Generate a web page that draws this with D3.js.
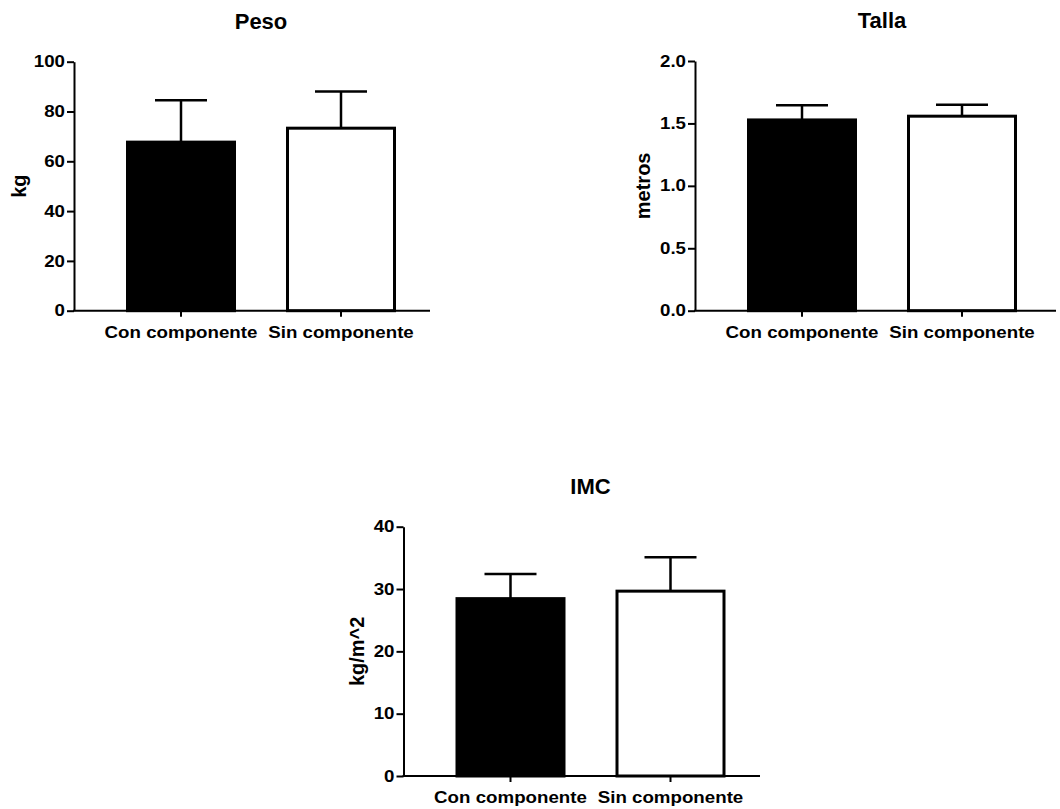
<!DOCTYPE html>
<html>
<head>
<meta charset="utf-8">
<script src="https://cdn.jsdelivr.net/npm/d3@7"></script>
<style>
  html, body { margin: 0; padding: 0; background: #fff; }
  svg { display: block; font-family: Arial, "Liberation Sans", sans-serif; font-weight: bold; }
</style>
</head>
<body>
<svg id="chart" width="1060" height="809"></svg>
<script>
// Groups compared in every panel
const categories = ["Con componente", "Sin componente"];

// Peso (kg): mean and SD per group
const pesoMean = [68.3, 73.9];
const pesoSD = [16.2, 14.1];
const pesoTicks = [0, 20, 40, 60, 80, 100];

// Talla (metros): mean and SD per group
const tallaMean = [1.54, 1.57];
const tallaSD = [0.105, 0.08];
const tallaTicks = [0, 0.5, 1.0, 1.5, 2.0];

// IMC (kg/m^2): mean and SD per group
const imcMean = [28.7, 29.9];
const imcSD = [3.7, 5.2];
const imcTicks = [0, 10, 20, 30, 40];

const barFills = ["#000000", "#ffffff"];

// Panel placement on the page
const panels = [
  { title: "Peso", yLabel: "kg", mean: pesoMean, sd: pesoSD, ticks: pesoTicks, fmt: d3.format("d"),
    left: 74, top: 61.7, width: 356, height: 249, labelOffset: 55.5 },
  { title: "Talla", yLabel: "metros", mean: tallaMean, sd: tallaSD, ticks: tallaTicks, fmt: d3.format(".1f"),
    left: 695, top: 61, width: 361, height: 249.7, labelOffset: 52 },
  { title: "IMC", yLabel: "kg/m^2", mean: imcMean, sd: imcSD, ticks: imcTicks, fmt: d3.format("d"),
    left: 403.5, top: 526.7, width: 356.5, height: 249.3, labelOffset: 47 }
];

const textStretch = 1.17;   // wide axis lettering
const svg = d3.select("#chart");

panels.forEach(p => {
  const g = svg.append("g").attr("transform", `translate(${p.left},${p.top})`);

  const y = d3.scaleLinear()
    .domain([0, d3.max(p.ticks)])
    .range([p.height, 0]);

  const x = d3.scaleBand()
    .domain(categories)
    .range([0, 374])
    .paddingInner(0.3125)
    .paddingOuter(0.325);

  const bw = x.bandwidth();
  const sw = 3;

  // bars
  g.selectAll("rect.bar")
    .data(categories)
    .join("rect")
    .attr("class", "bar")
    .attr("x", d => x(d) + sw / 2)
    .attr("width", bw - sw)
    .attr("y", (d, i) => y(p.mean[i]) + sw / 2)
    .attr("height", (d, i) => p.height - y(p.mean[i]) - sw / 2)
    .attr("fill", (d, i) => barFills[i])
    .attr("stroke", "#000")
    .attr("stroke-width", sw);

  // error bars (upper SD)
  const capW = 52;
  categories.forEach((c, i) => {
    const cx = x(c) + bw / 2;
    const yTop = y(p.mean[i] + p.sd[i]);
    g.append("line")
      .attr("x1", cx).attr("x2", cx)
      .attr("y1", y(p.mean[i]) + sw / 2).attr("y2", yTop)
      .attr("stroke", "#000").attr("stroke-width", 2.5);
    g.append("line")
      .attr("x1", cx - capW / 2).attr("x2", cx + capW / 2)
      .attr("y1", yTop).attr("y2", yTop)
      .attr("stroke", "#000").attr("stroke-width", 2.5);
  });

  // y axis
  const yAxis = g.append("g")
    .call(d3.axisLeft(y).tickValues(p.ticks).tickFormat(p.fmt).tickSize(7).tickSizeOuter(0));
  yAxis.select(".domain").attr("stroke", "#000").attr("stroke-width", 2);
  yAxis.selectAll(".tick line").attr("stroke", "#000").attr("stroke-width", 2);
  yAxis.selectAll(".tick text")
    .attr("x", -9 / textStretch)
    .attr("transform", `scale(${textStretch},1)`)
    .attr("fill", "#000")
    .style("font-size", "16px")
    .style("font-weight", "bold")
    .style("font-family", "Arial, 'Liberation Sans', sans-serif");

  // x axis
  const xAxis = g.append("g")
    .attr("transform", `translate(0,${p.height})`)
    .call(d3.axisBottom(x).tickSize(6).tickSizeOuter(0));
  xAxis.select(".domain").remove();
  xAxis.append("line")
    .attr("x1", -1).attr("x2", p.width)
    .attr("stroke", "#000").attr("stroke-width", 2);
  xAxis.selectAll(".tick line").attr("stroke", "#000").attr("stroke-width", 2);
  xAxis.selectAll(".tick text")
    .attr("y", 27)
    .attr("dy", 0)
    .attr("transform", `scale(${textStretch},1)`)
    .attr("fill", "#000")
    .style("font-size", "16px")
    .style("font-weight", "bold")
    .style("font-family", "Arial, 'Liberation Sans', sans-serif");

  // y axis title
  g.append("text")
    .attr("transform", `translate(${-p.labelOffset},${p.height / 2}) rotate(-90)`)
    .attr("text-anchor", "middle")
    .attr("dominant-baseline", "central")
    .style("font-size", "20px")
    .text(p.yLabel);

  // panel title, centred over the two bars
  const mid = (x(categories[0]) + x(categories[1]) + bw) / 2;
  g.append("text")
    .attr("x", mid)
    .attr("y", -33)
    .attr("text-anchor", "middle")
    .style("font-size", "22px")
    .text(p.title);
});
</script>
</body>
</html>
